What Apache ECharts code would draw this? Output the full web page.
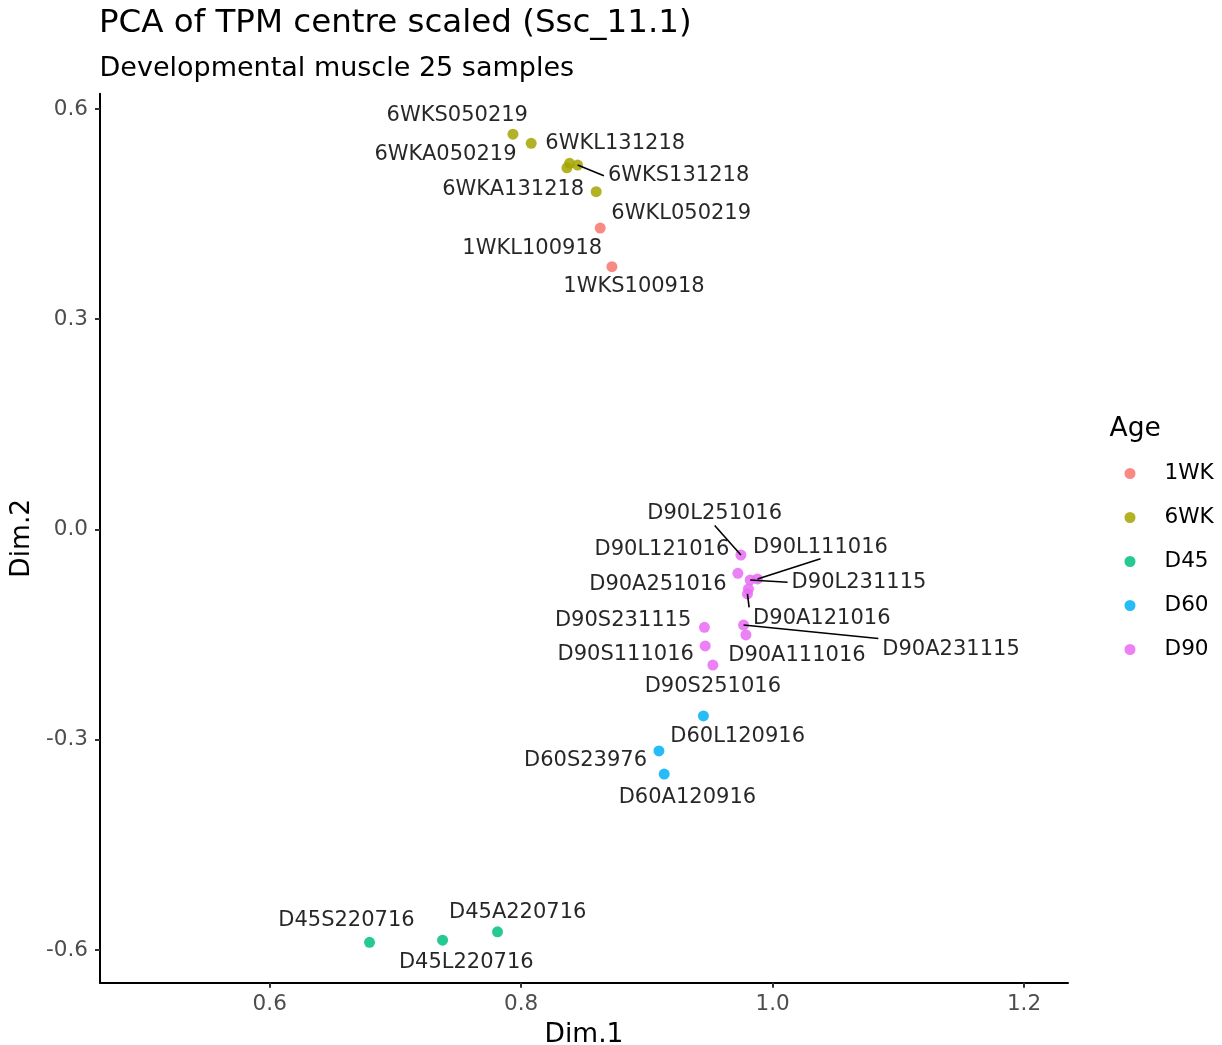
<!DOCTYPE html>
<html>
<head>
<meta charset="utf-8">
<script src="https://cdn.jsdelivr.net/npm/echarts@6/dist/echarts.min.js"></script>
<style>
  html, body { margin: 0; padding: 0; background: #ffffff; }
  #chart { width: 1222px; height: 1045px; }
</style>
</head>
<body>
<div id="chart"></div>
<script>
// Age groups and their ggplot-style hue colours
const ageGroups = ['1WK', '6WK', 'D45', 'D60', 'D90'];
const groupColors = ['#F8766D', '#A3A500', '#00BF7D', '#00B0F6', '#E76BF3'];

// Sample names and PCA coordinates per age group
const samples1WK = ['1WKL100918', '1WKS100918'];
const dim1_1WK = [0.8629, 0.8722];
const dim2_1WK = [0.430, 0.375];

const samples6WK = ['6WKS050219', '6WKA050219', '6WKL131218', '6WKS131218', '6WKA131218', '6WKL050219'];
const dim1_6WK = [0.7935, 0.8080, 0.8385, 0.8449, 0.8364, 0.8597];
const dim2_6WK = [0.564, 0.551, 0.5225, 0.520, 0.516, 0.482];

const samplesD45 = ['D45S220716', 'D45L220716', 'D45A220716'];
const dim1_D45 = [0.6794, 0.7375, 0.7812];
const dim2_D45 = [-0.589, -0.586, -0.574];

const samplesD60 = ['D60L120916', 'D60S23976', 'D60A120916'];
const dim1_D60 = [0.9450, 0.9096, 0.9138];
const dim2_D60 = [-0.266, -0.316, -0.349];

const samplesD90 = ['D90L251016', 'D90L121016', 'D90L231115', 'D90L111016', 'D90A251016', 'D90A121016',
                    'D90A231115', 'D90A111016', 'D90S231115', 'D90S111016', 'D90S251016'];
const dim1_D90 = [0.9748, 0.9724, 0.9822, 0.9880, 0.9808, 0.9800, 0.9769, 0.9788, 0.9458, 0.9464, 0.9525];
const dim2_D90 = [-0.0364, -0.0625, -0.0720, -0.0706, -0.0849, -0.0920, -0.1363, -0.1505, -0.1396, -0.1662, -0.1934];

// Axis limits and tick labels
const dim1Limits = [0.5, 1.2];
const dim1Ticks = [0.6, 0.8, 1.0, 1.2];
const dim2Ticks = [-0.6, -0.3, 0.0, 0.3, 0.6];

// Repelled label placement (pixel offset of label centre from its point)
const labelNudge = {
  '6WKS050219': [-55.7, -18.6], '6WKA050219': [-85.7, 11], '6WKL131218': [45.7, -20],
  '6WKS131218': [101, 10.7], '6WKA131218': [-53.7, 21.3], '6WKL050219': [85, 21.6],
  '1WKL100918': [-68, 20.7], '1WKS100918': [22.1, 20],
  'D45S220716': [-23.1, -21.6], 'D45L220716': [23.7, 22.7], 'D45A220716': [20.2, -19],
  'D60L120916': [34.2, 21], 'D60S23976': [-73.4, 10], 'D60A120916': [23.2, 23],
  'D90L251016': [-26.2, -41], 'D90L121016': [-76, -23.3], 'D90L111016': [63, -31.7],
  'D90A251016': [-90.5, -4.7], 'D90L231115': [108.8, 2.3], 'D90A121016': [74.4, 25],
  'D90S231115': [-81.3, -6.6], 'D90S111016': [-79.5, 9], 'D90A111016': [51, 21],
  'D90A231115': [207.5, 25], 'D90S251016': [0, 22]
};
// Labels pushed far enough to get a connecting segment
const segmentLabels = ['6WKS131218', 'D90L251016', 'D90L111016', 'D90L231115', 'D90A121016', 'D90A231115'];

const groups = [
  [samples1WK, dim1_1WK, dim2_1WK],
  [samples6WK, dim1_6WK, dim2_6WK],
  [samplesD45, dim1_D45, dim2_D45],
  [samplesD60, dim1_D60, dim2_D60],
  [samplesD90, dim1_D90, dim2_D90]
];

// ggplot-style 5% expansion of the ranges
const expand = (lo, hi) => { const d = (hi - lo) * 0.05; return [lo - d, hi + d]; };
const allDim2 = [].concat(dim2_1WK, dim2_6WK, dim2_D45, dim2_D60, dim2_D90);
const xRange = expand(dim1Limits[0], dim1Limits[1]);
const yRange = expand(Math.min.apply(null, allDim2), Math.max.apply(null, allDim2));

const FONT = 'DejaVu Sans';
const LABEL_SIZE = 21;

// Text width of a sample label, for the segment end on its box
const measureCtx = document.createElement('canvas').getContext('2d');
measureCtx.font = LABEL_SIZE + 'px "' + FONT + '"';
const labelWidth = (s) => measureCtx.measureText(s).width;

// Look up the coordinates of a named sample
function findSample(name) {
  for (const g of groups) {
    const i = g[0].indexOf(name);
    if (i >= 0) return [g[1][i], g[2][i]];
  }
  return null;
}
const segmentData = segmentLabels.map(findSample);

const series = groups.map(function (g, gi) {
  const names = g[0], xs = g[1], ys = g[2];
  return {
    type: 'scatter',
    name: ageGroups[gi],
    symbol: 'circle',
    symbolSize: 11,
    itemStyle: { color: groupColors[gi], opacity: 0.85 },
    emphasis: { disabled: true },
    data: names.map(function (n, i) { return { name: n, value: [xs[i], ys[i]] }; }),
    label: {
      show: true,
      position: 'inside',
      formatter: function (p) { return p.name; },
      color: '#000000',
      fontSize: LABEL_SIZE,
      fontFamily: FONT,
      textBorderWidth: 0
    },
    labelLayout: function (p) {
      const d = labelNudge[p.text] || [0, 0];
      return { dx: d[0], dy: d[1] };
    },
    z: 3
  };
});

// Connecting segments: from the point to the nearest edge anchor of the label box
series.push({
  type: 'custom',
  name: 'segments',
  coordinateSystem: 'cartesian2d',
  silent: true,
  z: 4,
  data: segmentData,
  renderItem: function (params, api) {
    const name = segmentLabels[params.dataIndex];
    const p = api.coord([api.value(0), api.value(1)]);
    const d = labelNudge[name];
    const lx = p[0] + d[0], ly = p[1] + d[1];
    const hw = labelWidth(name) / 2 + 4, hh = LABEL_SIZE / 2 + 1;
    const bx1 = lx - hw, bx2 = lx + hw, by1 = ly - hh, by2 = ly + hh;
    const ex = p[0] < bx1 ? bx1 : (p[0] > bx2 ? bx2 : lx);
    const ey = p[1] < by1 ? by1 : (p[1] > by2 ? by2 : ly);
    return {
      type: 'line',
      shape: { x1: p[0], y1: p[1], x2: ex, y2: ey },
      style: { stroke: '#000000', lineWidth: 1.6 }
    };
  }
});

const chart = echarts.init(document.getElementById('chart'), null, { renderer: 'canvas' });
chart.setOption({
  backgroundColor: '#ffffff',
  animation: false,
  title: [
    { text: 'PCA of TPM centre scaled (Ssc_11.1)', left: 99, top: 8, padding: 0,
      textStyle: { fontFamily: FONT, fontSize: 32.5, fontWeight: 'normal', color: '#000000', lineHeight: 32 } },
    { text: 'Developmental muscle 25 samples', left: 99.5, top: 55, padding: 0,
      textStyle: { fontFamily: FONT, fontSize: 27, fontWeight: 'normal', color: '#000000', lineHeight: 27 } },
    { text: 'Age', left: 1109.5, top: 416, padding: 0,
      textStyle: { fontFamily: FONT, fontSize: 26.5, fontWeight: 'normal', color: '#000000', lineHeight: 27 } }
  ],
  legend: {
    orient: 'vertical',
    left: 1124.5,
    top: 462.5,
    padding: 0,
    icon: 'circle',
    itemWidth: 11,
    itemHeight: 11,
    itemGap: 22,
    selectedMode: false,
    data: ageGroups,
    textStyle: { fontFamily: FONT, fontSize: 21.6, color: '#000000', lineHeight: 21, padding: [0, 0, 0, 24] }
  },
  grid: { left: 100, right: 154, top: 93.8, bottom: 62.3, containLabel: false, outerBoundsMode: 'none' },
  xAxis: {
    type: 'value',
    min: xRange[0],
    max: xRange[1],
    name: 'Dim.1',
    nameLocation: 'middle',
    nameGap: 39,
    nameTextStyle: { fontFamily: FONT, fontSize: 26.5, color: '#000000' },
    axisLine: { onZero: false, lineStyle: { color: '#000000', width: 2 } },
    axisTick: { show: true, length: 5, customValues: dim1Ticks, lineStyle: { color: '#333333', width: 2 } },
    axisLabel: { customValues: dim1Ticks, formatter: function (v) { return v.toFixed(1); },
      color: '#4D4D4D', fontFamily: FONT, fontSize: 21.5, margin: 11 },
    splitLine: { show: false }
  },
  yAxis: {
    type: 'value',
    min: yRange[0],
    max: yRange[1],
    name: 'Dim.2',
    nameLocation: 'middle',
    nameRotate: 90,
    nameGap: 62,
    nameTextStyle: { fontFamily: FONT, fontSize: 26.5, color: '#000000' },
    axisLine: { onZero: false, lineStyle: { color: '#000000', width: 2 } },
    axisTick: { show: true, length: 5, customValues: dim2Ticks, lineStyle: { color: '#333333', width: 2 } },
    axisLabel: { customValues: dim2Ticks, formatter: function (v) { return v.toFixed(1); },
      color: '#4D4D4D', fontFamily: FONT, fontSize: 21.5, margin: 12 },
    splitLine: { show: false }
  },
  series: series
});
</script>
</body>
</html>
